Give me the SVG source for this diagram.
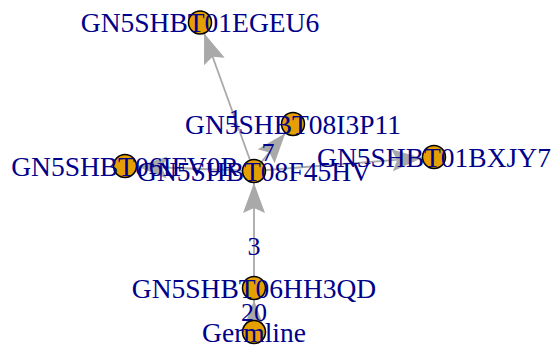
<svg xmlns="http://www.w3.org/2000/svg" width="553" height="345" viewBox="0 0 553 345">
<style>
.e{stroke:#A9A9A9;stroke-width:1.8;fill:none}
.a{fill:#A9A9A9;stroke:none}
.n{fill:#E69F00;stroke:#000;stroke-width:1.5}
.t{font-family:"Liberation Serif",serif;font-size:27.5px;fill:#00008B;text-anchor:middle}
.l{font-family:"Liberation Serif",serif;font-size:26px;fill:#00008B;text-anchor:middle}
</style>
<rect width="553" height="345" fill="#fff"/>
<g id="edges">
<line class="e" x1="254" y1="332" x2="254" y2="300"/>
<path class="a" d="M254,300 L265,330 L254,325 L243,330 Z"/>
<line class="e" x1="254" y1="288" x2="254" y2="183"/>
<path class="a" d="M254,183 L265,213 L254,208 L243,213 Z"/>
<line class="e" x1="254" y1="171" x2="204.1" y2="33.3"/>
<path class="a" d="M204.1,33.3 L224.7,57.8 L212.6,56.8 L204.0,65.3 Z"/>
<line class="e" x1="254" y1="171" x2="285.3" y2="133.2"/>
<path class="a" d="M285.3,133.2 L274.6,163.3 L269.4,152.5 L257.7,149.3 Z"/>
<line class="e" x1="254" y1="171" x2="137" y2="166.5"/>
<path class="a" d="M137,166.5 L167.4,156.6 L162,167.4 L166.6,178.6 Z"/>
<line class="e" x1="254" y1="171" x2="422" y2="157.9"/>
<path class="a" d="M422,157.9 L393,171.2 L397.1,159.9 L391.3,149.3 Z"/>
<text class="l" x="254" y="321">20</text>
<text class="l" x="254" y="255">3</text>
<text class="l" x="235" y="127">1</text>
<text class="l" x="268" y="161">7</text>
</g>
<g id="n_EGEU6"><circle class="n" cx="200" cy="22.5" r="11.5"/><text class="t" x="200" y="32">GN5SHBT01EGEU6</text></g>
<g id="n_I3P11"><circle class="n" cx="293" cy="124" r="11.5"/><text class="t" x="293" y="133.5">GN5SHBT08I3P11</text></g>
<g id="n_IFV0R"><circle class="n" cx="125" cy="166" r="11.5"/><text class="t" x="125" y="175.5">GN5SHBT06IFV0R</text></g>
<g id="n_F45HV"><circle class="n" cx="254" cy="171" r="11.5"/><text class="t" x="254" y="180.5">GN5SHBT08F45HV</text></g>
<g id="n_BXJY7"><circle class="n" cx="434" cy="157" r="11.5"/><text class="t" x="434" y="166.5">GN5SHBT01BXJY7</text></g>
<g id="n_HH3QD"><circle class="n" cx="254" cy="288" r="11.5"/><text class="t" x="254" y="297.5">GN5SHBT06HH3QD</text></g>
<g id="n_Germline"><circle class="n" cx="254" cy="332" r="11.5"/><text class="t" x="254" y="341.5">Germline</text></g>
</svg>
